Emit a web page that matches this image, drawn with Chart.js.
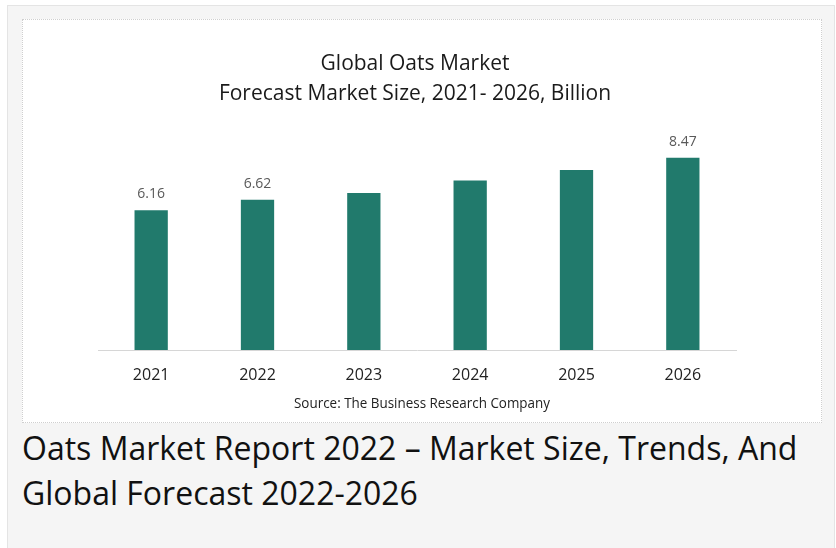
<!DOCTYPE html>
<html>
<head>
<meta charset="utf-8">
<script src="https://cdn.jsdelivr.net/npm/chart.js@4"></script>
<style>
  html, body { margin: 0; padding: 0; background: #ffffff; overflow: hidden; }
  .outer {
    position: absolute; left: 7px; top: 5px; width: 826px; height: 560px;
    background: #f5f5f5; border: 1px solid #e4e4e4;
  }
  .card {
    position: absolute; left: 22px; top: 19px; width: 798px; height: 402px;
    background: #ffffff; border: 1px dotted #cfcfcf;
  }
  .heading {
    position: absolute; left: 22px; top: 425px; width: 900px;
    font-family: "Open Sans", sans-serif; font-size: 32px; line-height: 45px;
    color: #111111; white-space: nowrap;
  }
</style>
</head>
<body>
<div class="outer"></div>
<div class="card"><canvas id="oats-chart" width="798" height="402"></canvas></div>
<div class="heading" id="heading">Oats Market Report 2022 – Market Size, Trends, And<br>Global Forecast 2022-2026</div>

<script>
// chart data
const years = ['2021', '2022', '2023', '2024', '2025', '2026'];
const marketSize = [6.16, 6.62, 6.92, 7.47, 7.93, 8.47];
const valueLabels = ['6.16', '6.62', '', '', '', '8.47'];
const titleLines = ['Global Oats Market', 'Forecast Market Size, 2021- 2026, Billion'];
const sourceText = 'Source: The Business Research Company';

// title, source line and the few value labels
const textPlugin = {
  id: 'textPlugin',
  afterDraw(chart) {
    const ctx = chart.ctx;
    ctx.save();
    ctx.textAlign = 'center';
    ctx.textBaseline = 'alphabetic';

    ctx.fillStyle = '#1a1a1a';
    ctx.font = '21px "Open Sans"';
    ctx.fillText(titleLines[0], 392, 50, 200);
    ctx.fillText(titleLines[1], 392, 80, 396);

    ctx.font = '14px "Open Sans"';
    ctx.fillStyle = '#222222';
    ctx.fillText(sourceText, 399, 388, 256);

    ctx.fillStyle = '#595959';
    ctx.font = '14px "Open Sans"';
    const bars = chart.getDatasetMeta(0).data;
    bars.forEach((bar, i) => {
      if (valueLabels[i]) ctx.fillText(valueLabels[i], bar.x, bar.y - 12);
    });
    ctx.restore();
  },
};

const ctx = document.getElementById('oats-chart').getContext('2d');
new Chart(ctx, {
  type: 'bar',
  data: {
    labels: years,
    datasets: [
      {
        data: marketSize,
        backgroundColor: '#217a6c',
        categoryPercentage: 1,
        barPercentage: 0.313,
      },
    ],
  },
  options: {
    responsive: false,
    animation: false,
    layout: { padding: { left: 75, right: 85, top: 103, bottom: 0 } },
    plugins: {
      legend: { display: false },
      tooltip: { enabled: false },
      title: { display: false },
    },
    scales: {
      x: {
        grid: { display: false, drawTicks: false },
        border: { display: true, color: '#d6d6d6', width: 1 },
        ticks: {
          color: '#222222',
          padding: 16,
          font: { family: 'Open Sans', size: 16 },
        },
        afterFit: (scale) => { scale.height = 72; },
      },
      y: {
        display: false,
        min: 0,
        max: 10,
      },
    },
  },
  plugins: [textPlugin],
});
</script>
</body>
</html>
